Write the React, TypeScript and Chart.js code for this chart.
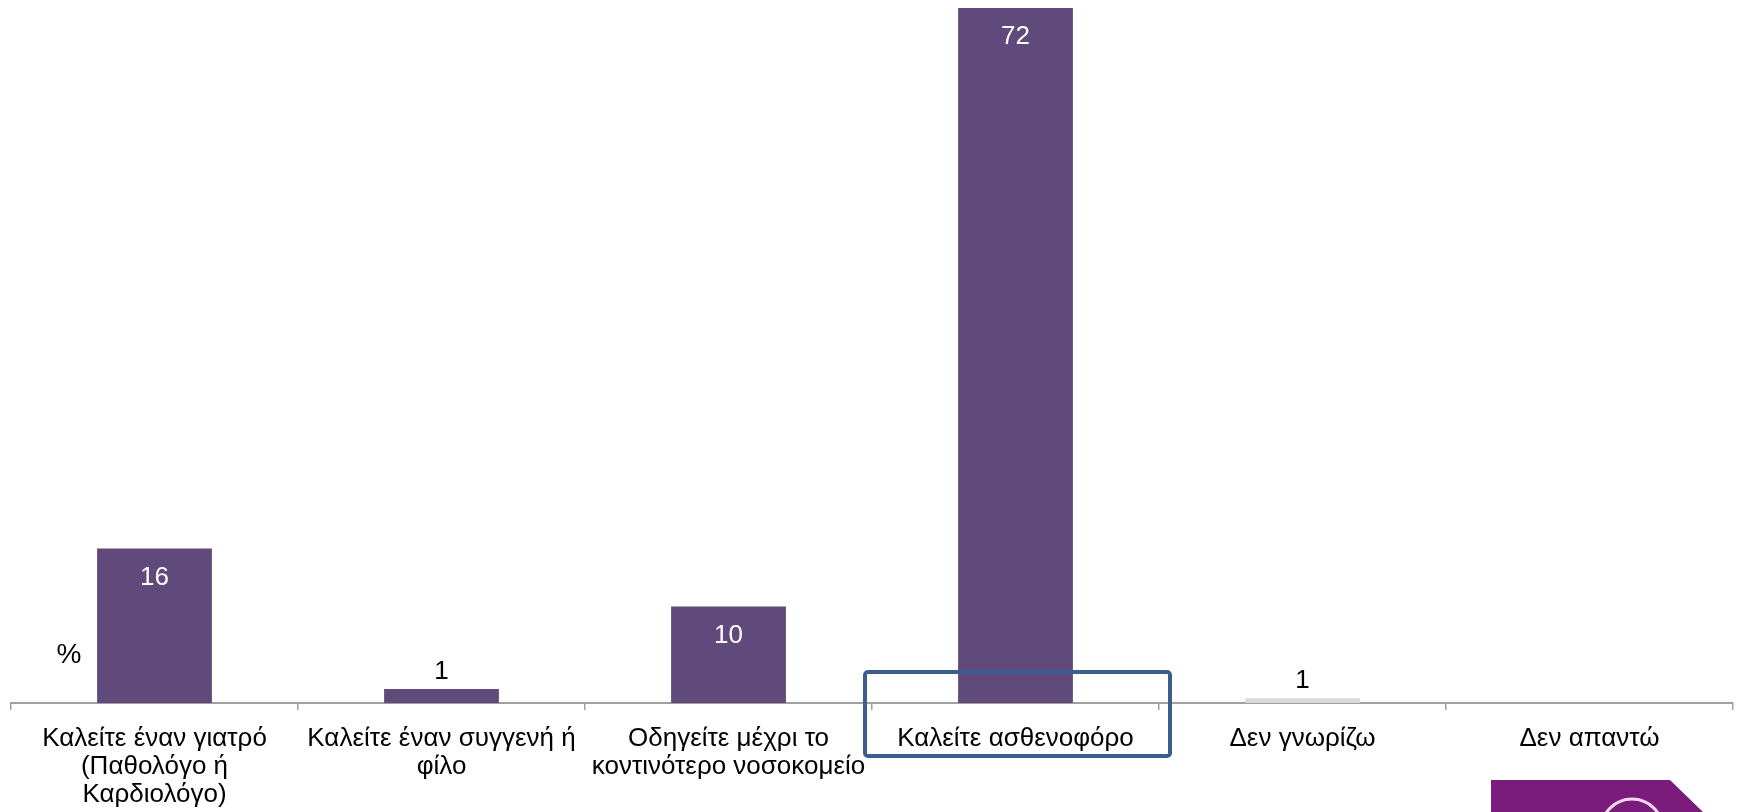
import React, { useEffect, useRef } from "react";
import { Chart, registerables } from "chart.js";

Chart.register(...registerables);

const categories: (string | string[])[] = [
  ["Καλείτε έναν γιατρό", "(Παθολόγο ή", "Καρδιολόγο)"],
  ["Καλείτε έναν συγγενή ή", "φίλο"],
  ["Οδηγείτε μέχρι το", "κοντινότερο νοσοκομείο"],
  "Καλείτε ασθενοφόρο",
  "Δεν γνωρίζω",
  "Δεν απαντώ",
];
const values: number[] = [16, 1.45, 10, 72, 0.5, 0];
const barColors: string[] = ["#604A7B", "#604A7B", "#604A7B", "#604A7B", "#D9D9D9", "#604A7B"];
const unitLabel = "%";
const highlightIndex = 3;

const FONT = '"Liberation Sans", Arial, sans-serif';

const overlayPlugin = {
  id: "overlay",
  afterDatasetsDraw(chart: any) {
    const ctx = chart.ctx as CanvasRenderingContext2D;
    const meta = chart.getDatasetMeta(0);
    ctx.save();
    ctx.font = `26px ${FONT}`;
    ctx.textAlign = "center";
    ctx.textBaseline = "middle";
    meta.data.forEach((bar: any, i: number) => {
      const v = values[i];
      if (!(v > 0)) return;
      const label = String(Math.round(v));
      if (v >= 5) {
        ctx.fillStyle = "#FFFFFF";
        ctx.fillText(label, bar.x, bar.y + 29);
      } else {
        ctx.fillStyle = "#000000";
        ctx.fillText(label, bar.x, bar.y - 17);
      }
    });
    ctx.restore();
  },
  afterDraw(chart: any) {
    const ctx = chart.ctx as CanvasRenderingContext2D;
    const x = chart.scales.x;
    const area = chart.chartArea;
    ctx.save();
    // percent label
    ctx.font = `28px ${FONT}`;
    ctx.fillStyle = "#000";
    ctx.textAlign = "center";
    ctx.textBaseline = "middle";
    ctx.fillText(unitLabel, 69, 655);

    // highlight rectangle around the chosen category
    const cx = x.getPixelForValue(highlightIndex);
    const half = (x.getPixelForValue(1) - x.getPixelForValue(0)) / 2;
    const left = cx - half - 7;
    const right = cx + half + 11;
    const top = area.bottom - 31;
    const bottom = area.bottom + 53;
    ctx.strokeStyle = "#3B5E8C";
    ctx.lineWidth = 4;
    ctx.beginPath();
    (ctx as any).roundRect(left, top, right - left, bottom - top, 3);
    ctx.stroke();

    // logo fragment bottom right
    ctx.fillStyle = "#7B1C7C";
    ctx.beginPath();
    ctx.moveTo(1491, 780);
    ctx.lineTo(1670, 780);
    ctx.lineTo(1703, 812);
    ctx.lineTo(1491, 812);
    ctx.closePath();
    ctx.fill();
    ctx.strokeStyle = "#F3D6F0";
    ctx.lineWidth = 3;
    ctx.beginPath();
    ctx.arc(1632, 830, 31, 0, Math.PI * 2);
    ctx.stroke();
    ctx.restore();
  },
};

export default function App() {
  const ref = useRef<HTMLCanvasElement | null>(null);
  useEffect(() => {
    if (!ref.current) return;
    const chart = new Chart(ref.current, {
      type: "bar",
      data: {
        labels: categories,
        datasets: [
          {
            data: values,
            backgroundColor: barColors,
            borderWidth: 0,
            categoryPercentage: 1,
            barPercentage: 0.4,
          },
        ],
      },
      options: {
        responsive: false,
        animation: false,
        layout: { padding: { left: 11, right: 11, top: 8, bottom: 0 } },
        plugins: { legend: { display: false }, tooltip: { enabled: false } },
        scales: {
          x: {
            grid: {
              display: true,
              drawOnChartArea: false,
              drawTicks: true,
              tickLength: 7,
              offset: true,
              color: "#A0A0A0",
              lineWidth: 1.5,
            },
            border: { display: true, color: "#A0A0A0", width: 2 },
            ticks: {
              color: "#000",
              font: { family: FONT, size: 26, lineHeight: 1.08 },
              padding: 15,
              maxRotation: 0,
              autoSkip: false,
            },
            afterFit(scale: any) {
              scale.height = 109;
            },
          },
          y: { display: false, min: 0, max: 72 },
        },
      },
      plugins: [overlayPlugin],
    });
    return () => chart.destroy();
  }, []);
  return (
    <div style={{ position: "absolute", left: 0, top: 0, width: 1744, height: 812, background: "#fff" }}>
      <canvas ref={ref} width={1744} height={812} />
    </div>
  );
}
